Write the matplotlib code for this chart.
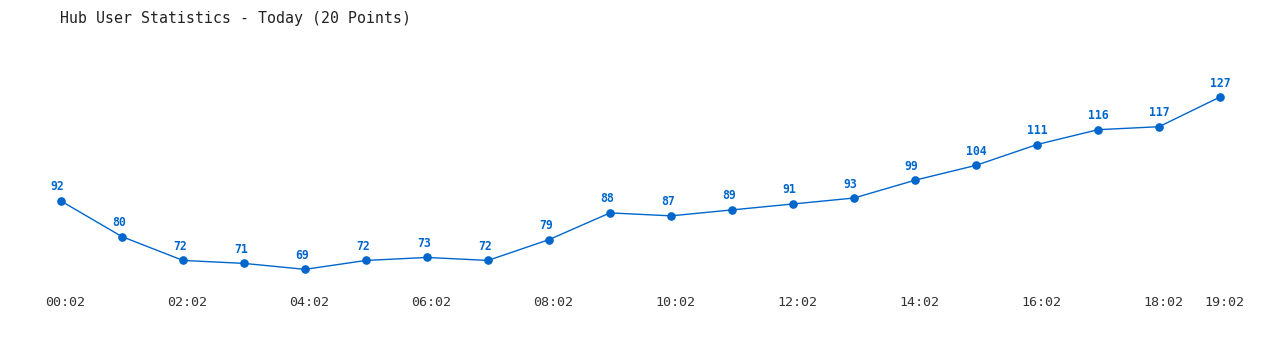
import matplotlib
matplotlib.use("Agg")
import matplotlib.pyplot as plt
import matplotlib.transforms as mtransforms

times = [f"{h:02d}:02" for h in range(20)]
users = [92, 80, 72, 71, 69, 72, 73, 72, 79, 88, 87, 89, 91, 93, 99, 104, 111, 116, 117, 127]
tick_idx = [0, 2, 4, 6, 8, 10, 12, 14, 16, 18, 19]
title = "Hub User Statistics - Today (20 Points)"

blue = "#0066cc"
W, H = 1280, 350
fig = plt.figure(figsize=(W / 100, H / 100), dpi=100)
ax_bottom_px = 290
ax = fig.add_axes([0, 1 - ax_bottom_px / H, 1, ax_bottom_px / H])

x = list(range(len(users)))
ax.plot(x, users, color=blue, lw=1.0, marker="o", ms=5.2, mfc=blue, mec=blue)
charw = 6.7
for xi, v in zip(x, users):
    s = str(v)
    dx = -(3 - len(s)) * charw / 2
    ax.annotate(s, (xi, v), xytext=(dx, 14), textcoords="offset pixels",
                ha="center", va="center", fontsize=8.3, fontweight="bold",
                color=blue, family="DejaVu Sans Mono")

px_per_unit = 104 / 35.0
ax.set_xlim(-1, (W - 61) / 61)
ax.set_ylim(92 - (ax_bottom_px - 201) / px_per_unit, 92 + 201 / px_per_unit)
ax.set_xticks(tick_idx)
ax.set_xticklabels([times[i] for i in tick_idx], family="DejaVu Sans Mono",
                   fontsize=9.6, color="#333333")
ax.tick_params(axis="x", length=0, pad=4.5)
shift = mtransforms.ScaledTranslation(4.5 / 100, 0, fig.dpi_scale_trans)
for lbl in ax.get_xticklabels():
    lbl.set_transform(lbl.get_transform() + shift)
ax.set_yticks([])
for sp in ax.spines.values():
    sp.set_visible(False)

fig.text(60 / W, 1 - 18 / H, title, ha="left", va="center", fontsize=10.7,
         family="DejaVu Sans Mono", color="#222222")

fig.savefig("out.png", dpi=100)
